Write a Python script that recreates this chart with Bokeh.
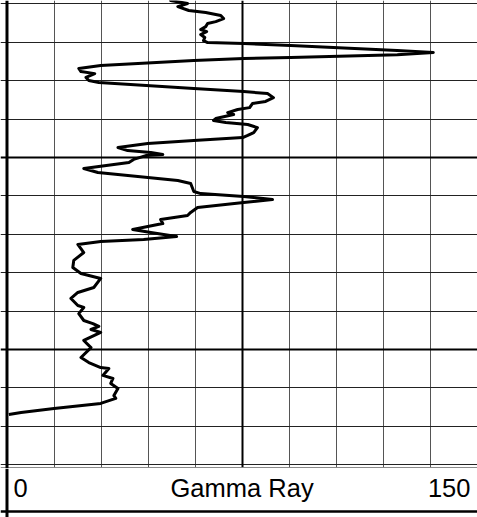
from bokeh.plotting import figure
from bokeh.models import Range1d, Grid, FixedTicker, Span, ColumnDataSource
from bokeh.layouts import column
from bokeh.core.properties import value
from bokeh.embed import file_html
from bokeh.resources import INLINE

depth = [
    1001.72, 1001.82, 1001.98, 1002.14, 1002.34, 1002.45, 1002.60, 1002.76, 1002.92, 1003.02,
    1003.18, 1003.33, 1003.44, 1003.59, 1003.75, 1003.91, 1004.01, 1004.06, 1004.17, 1004.43,
    1004.53, 1004.64, 1004.79, 1004.84, 1004.95, 1005.21, 1005.36, 1005.52, 1005.63, 1005.83,
    1005.99, 1006.09, 1006.41, 1006.56, 1006.67, 1006.88, 1007.08, 1007.19, 1007.40, 1007.50,
    1007.66, 1007.76, 1007.97, 1008.07, 1008.18, 1008.28, 1008.44, 1008.70, 1008.85, 1008.96,
    1009.11, 1009.27, 1009.48, 1009.64, 1009.74, 1009.84, 1009.90, 1010.10, 1010.26, 1010.57,
    1010.78, 1011.20, 1011.35, 1011.77, 1011.88, 1012.03, 1012.19, 1012.34, 1012.60, 1012.86,
    1013.02, 1013.23, 1013.44, 1013.75, 1013.91, 1014.01, 1014.11, 1014.27, 1014.38, 1014.53,
    1014.95, 1015.36, 1015.73, 1016.04, 1016.30, 1016.77, 1017.03, 1017.34, 1017.71, 1017.81,
    1018.13, 1018.49, 1018.65, 1018.80, 1018.96, 1019.11, 1019.53, 1019.90, 1020.42, 1020.68,
    1020.94, 1020.99, 1021.35, 1021.51, 1021.77, 1022.03, 1022.40, 1022.55, 1022.81, 1023.07,
    1023.28, 1023.39,
]
gamma_ray = [
    52.9, 52.2, 57.6, 54.5, 58.0, 63.4, 68.2, 69.1, 66.6, 64.0,
    63.4, 61.8, 63.7, 61.8, 63.1, 62.7, 64.0, 75.5, 90.5, 124.5,
    136.0, 124.5, 90.5, 75.5, 59.6, 29.9, 22.9, 23.6, 28.0, 25.2,
    26.1, 29.3, 59.6, 75.5, 83.1, 85.0, 82.5, 78.3, 77.4, 73.6,
    70.4, 72.3, 66.6, 65.9, 69.8, 76.8, 79.9, 78.7, 76.8, 75.2,
    59.6, 44.9, 35.4, 38.5, 45.9, 49.7, 44.3, 40.4, 38.9, 24.5,
    29.0, 54.5, 58.6, 59.6, 61.8, 75.5, 84.7, 75.5, 60.8, 58.6,
    57.6, 49.0, 49.7, 40.1, 45.9, 50.0, 54.1, 43.6, 29.9, 22.6,
    24.5, 21.3, 21.0, 23.6, 29.9, 27.7, 22.6, 20.4, 22.6, 24.5,
    22.9, 24.5, 27.4, 29.3, 26.8, 29.9, 24.5, 26.8, 23.6, 26.1,
    29.9, 32.5, 30.6, 33.8, 33.1, 35.4, 34.1, 34.7, 29.9, 15.0,
    4.5, 0.6,
]

track_min = 0
track_max = 150
track_name = "Gamma Ray"
gr_grid_ticks = [15, 30, 45, 60, 90, 105, 120, 135, 150]
gr_major_ticks = [75]
depth_grid_ticks = [1002, 1004, 1006, 1008, 1012, 1014, 1016, 1018, 1022, 1024, 1026]
depth_major_ticks = [1010, 1020]

# ---- track figure ----
W = 477
H1 = 468
H2 = 49

xr = Range1d(track_min - 2.07, track_max + 0.1)
p = figure(width=W, height=H1, x_range=xr, y_range=Range1d(1026.2, 1001.82),
           x_axis_location=None, y_axis_location=None,
           toolbar_location=None, output_backend="svg",
           min_border=0, min_border_left=0, min_border_right=0,
           min_border_top=0, min_border_bottom=0)
p.outline_line_color = None
p.background_fill_color = "white"
p.border_fill_color = "white"
# hide the default grids before adding the log-track grids
p.xgrid.visible = False
p.ygrid.visible = False

p.add_layout(Grid(dimension=0, ticker=FixedTicker(ticks=gr_grid_ticks),
                  grid_line_color="#555555", grid_line_width=1))
p.add_layout(Grid(dimension=1, ticker=FixedTicker(ticks=depth_grid_ticks),
                  grid_line_color="#222222", grid_line_width=1))
p.add_layout(Grid(dimension=0, ticker=FixedTicker(ticks=gr_major_ticks),
                  grid_line_color="black", grid_line_width=2))
p.add_layout(Grid(dimension=1, ticker=FixedTicker(ticks=depth_major_ticks),
                  grid_line_color="black", grid_line_width=2))

# track bottom edge and left edge
p.add_layout(Span(location=1026.15, dimension="width", line_color="#888888", line_width=1))
p.add_layout(Span(location=track_min, dimension="height", line_color="black", line_width=3))

src = ColumnDataSource(data=dict(gr=gamma_ray, depth=depth))
p.line("gr", "depth", source=src, line_color="black", line_width=3, line_join="round")

# ---- header / scale strip ----
h = figure(width=W, height=H2, x_range=xr, y_range=Range1d(0, 1),
           x_axis_location=None, y_axis_location=None,
           toolbar_location=None, output_backend="svg",
           min_border=0, min_border_left=0, min_border_right=0,
           min_border_top=0, min_border_bottom=0)
h.outline_line_color = None
h.xgrid.visible = False
h.ygrid.visible = False
h.background_fill_color = "white"
h.border_fill_color = "white"

lbl = ColumnDataSource(data=dict(
    x=[track_min, (track_min + track_max) / 2, track_max],
    y=[0.6, 0.6, 0.6],
    text=[str(track_min), track_name, str(track_max)],
    align=["left", "center", "right"],
    xoff=[6.5, 0, -6.7],
))
h.text(x="x", y="y", text="text", source=lbl, text_align="align", x_offset="xoff",
       text_baseline="middle", text_font=value("Liberation Sans"),
       text_font_size="25.5px", text_color="black")
h.add_layout(Span(location=0.122, dimension="width", line_color="black", line_width=2.5))
h.add_layout(Span(location=track_min, dimension="height", line_color="black", line_width=3))

layout = column(p, h, spacing=0)

open("out.html", "w").write(file_html(layout, INLINE))
